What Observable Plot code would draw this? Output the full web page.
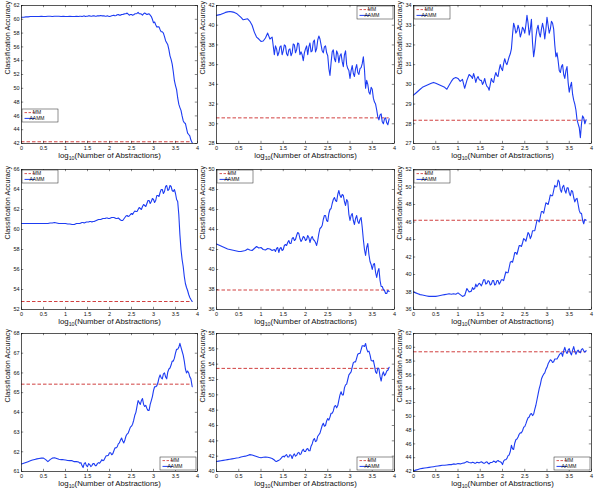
<!DOCTYPE html>
<html>
<head>
<meta charset="utf-8">
<script src="https://cdn.jsdelivr.net/npm/d3@7"></script>
<script src="https://cdn.jsdelivr.net/npm/@observablehq/plot@0.6"></script>
<style>
  html, body { margin: 0; padding: 0; background: white; }
  #wrap { position: relative; width: 600px; height: 492px; overflow: hidden; background: white; }
  #wrap > div { position: absolute; }
</style>
</head>
<body>
<div id="wrap"></div>
<script>
// ---------- data ----------
// main sample positions (log10 of number of abstractions)
const xs = [0,0.05,0.1,0.15,0.2,0.25,0.3,0.35,0.4,0.45,0.5,0.55,0.6,0.65,0.7,0.75,0.8,0.85,0.9,0.95,
  1,1.05,1.1,1.15,1.2,1.25,1.3,1.35,1.4,1.45,1.5,1.55,1.6,1.65,1.7,1.75,1.8,1.85,1.9,1.95,
  2,2.05,2.1,2.15,2.2,2.25,2.3,2.35,2.4,2.45,2.5,2.55,2.6,2.65,2.7,2.75,2.8,2.85,2.9,2.95,
  3,3.05,3.1,3.15,3.2,3.25,3.3,3.35,3.4,3.45,3.5,3.55,3.6,3.65,3.7,3.75,3.8,3.85,3.88];
// extra in-between positions in the noisy part of the curves
const xm = [1.325,1.375,1.425,1.475,1.525,1.575,1.625,1.675,1.725,1.775,1.825,1.875,1.925,1.975,
  2.025,2.075,2.125,2.175,2.225,2.275,2.325,2.375,2.425,2.475,2.525,2.575,2.625,2.675,2.725,2.775,
  2.825,2.875,2.925,2.975,3.025,3.075,3.125,3.175,3.225,3.275,3.325,3.375,3.425,3.475,3.525,3.575,
  3.625,3.675,3.725,3.775,3.825];

const yP1 = [60.3,60.3,60.35,60.35,60.4,60.4,60.4,60.4,60.4,60.45,60.4,60.4,60.45,60.45,60.4,60.45,60.45,60.45,60.4,60.45,
  60.4,60.4,60.45,60.4,60.4,60.45,60.4,60.45,60.45,60.4,60.45,60.5,60.45,60.5,60.45,60.5,60.55,60.5,60.45,60.5,
  60.4,60.5,60.6,60.55,60.7,60.6,60.7,60.8,60.9,60.6,60.7,60.65,60.8,61.0,60.8,60.6,60.9,60.7,60.8,60.4,
  59.5,59.2,58.9,58.5,58.2,57.5,56.6,55.6,54.2,52.4,50.4,48.6,47.2,46.0,45.0,44.2,43.3,42.5,42.1];
const yM1 = [60.45,60.4,60.5,60.45,60.5,60.45,60.5,60.45,60.5,60.5,60.5,60.5,60.45,60.45,
  60.45,60.55,60.5,60.65,60.6,60.7,60.75,60.8,60.75,60.7,60.6,60.8,60.85,60.8,60.75,60.8,
  60.8,60.75,60.6,60.0,59.6,58.9,58.9,58.2,58.0,56.9,56.3,54.7,53.5,51.1,49.8,47.7,
  46.8,45.3,44.9,43.5,43.1];

const yP2 = [41.0,41.05,41.1,41.2,41.3,41.35,41.4,41.35,41.3,41.2,41.0,40.8,40.55,40.6,40.65,40.4,40.0,39.3,38.8,38.6,
  38.35,38.4,38.7,39.2,38.6,38.8,37.0,37.6,37.2,37.9,37.4,37.9,36.9,37.6,37.2,38.0,37.5,38.1,37.3,36.4,
  37.6,37.0,38.2,37.4,38.5,37.6,38.9,38.0,37.2,37.9,36.9,34.9,37.3,36.6,37.4,36.2,37.1,35.8,37.4,35.6,
  34.6,35.9,34.8,36.0,35.0,35.7,36.8,33.6,34.0,33.0,33.5,32.2,31.4,30.4,31.0,30.0,30.6,29.9,30.5];
const yM2 = [37.9,36.9,37.8,37.0,38.0,37.1,37.5,36.9,38.1,37.2,38.2,37.0,37.0,37.2,
  37.9,37.8,37.3,38.3,37.3,38.5,38.6,37.4,37.8,37.2,35.6,36.2,37.5,36.3,37.1,36.9,
  36.3,37.0,36.0,35.4,35.4,35.1,35.6,35.2,35.6,36.1,35.5,34.4,33.2,33.7,32.6,32.0,
  30.7,30.9,30.2,30.5,30.1];

const yP3 = [29.45,29.55,29.65,29.75,29.85,29.9,29.95,30.0,30.05,30.1,30.05,30.0,29.95,29.9,29.85,29.75,29.95,30.15,30.3,30.35,
  30.3,30.15,30.25,29.8,30.2,30.5,30.4,30.55,30.1,30.4,30.2,30.0,30.3,29.9,29.7,30.3,30.1,30.6,30.4,31.0,
  30.7,31.3,31.0,31.4,31.8,33.1,32.6,33.0,32.4,32.9,32.6,33.5,32.5,33.3,31.4,32.4,33.0,32.4,33.1,32.3,
  33.4,32.6,33.2,32.8,31.4,31.2,30.6,31.0,30.3,30.9,29.6,30.1,29.2,28.7,28.0,27.3,28.4,28.0,28.2];
const yM3 = [30.3,30.35,30.3,30.25,30.2,30.1,30.05,29.85,30.0,30.15,30.4,30.45,30.75,30.8,
  31.05,31.1,31.2,31.55,32.5,32.9,32.7,32.8,32.6,32.8,33.0,33.1,32.8,32.1,31.8,32.8,
  32.6,32.8,32.8,32.8,33.0,32.8,33.1,32.0,31.6,30.7,30.9,30.5,30.7,30.1,29.9,29.5,
  29.0,28.2,27.8,28.0,28.3];

const yP4 = [60.6,60.6,60.6,60.6,60.6,60.6,60.6,60.6,60.6,60.6,60.6,60.6,60.6,60.65,60.65,60.7,60.65,60.6,60.6,60.6,
  60.6,60.55,60.55,60.5,60.5,60.6,60.6,60.65,60.7,60.7,60.75,60.8,60.75,60.8,60.9,61.0,61.0,61.1,61.1,61.15,
  61.1,61.2,61.2,61.1,61.15,60.95,60.9,61.2,61.4,61.35,61.6,61.7,61.8,62.0,62.1,62.3,62.4,62.6,62.9,62.8,
  63.0,62.9,63.4,63.7,64.0,63.8,64.4,64.0,64.3,63.8,63.6,62.8,59.5,57.0,55.3,54.2,53.5,53.0,52.8];
const yM4 = [60.6,60.7,60.65,60.75,60.75,60.8,60.8,60.85,60.95,61.0,61.05,61.1,61.15,61.1,
  61.15,61.2,61.15,61.1,61.05,60.9,61.05,61.35,61.3,61.5,61.5,61.85,61.8,62.2,62.0,62.5,
  62.3,62.9,62.6,63.1,62.7,63.4,63.3,64.0,63.6,64.3,63.9,64.4,63.9,64.0,63.0,61.5,
  58.0,56.3,54.6,53.9,53.2];

const yP5 = [42.55,42.45,42.35,42.25,42.15,42.05,42.0,41.95,41.9,41.85,41.8,41.8,41.85,41.9,42.05,41.95,41.9,42.1,42.3,42.15,
  42.2,42.0,41.95,42.1,42.05,41.9,42.0,42.1,41.7,42.2,42.0,42.5,42.7,42.6,43.1,42.9,43.4,43.6,42.8,43.3,
  42.9,43.4,42.7,43.3,42.9,42.4,43.6,44.2,45.0,45.4,44.8,46.0,46.6,47.2,46.8,47.9,47.2,47.4,46.4,46.8,
  44.9,45.6,44.5,45.4,44.6,45.2,43.0,41.4,42.6,40.8,40.0,40.6,39.2,40.1,38.3,38.0,37.6,37.9,37.8];
const yM5 = [41.8,42.2,42.1,41.9,42.4,42.4,42.9,42.6,43.2,43.0,43.7,43.1,43.0,43.2,
  43.0,43.2,43.1,43.0,42.7,42.9,44.1,44.4,45.4,44.9,45.6,46.1,47.0,46.9,47.5,47.4,
  47.5,46.8,47.0,45.5,45.4,44.9,45.1,44.8,45.0,44.2,42.0,42.2,41.5,40.5,40.5,39.7,
  39.8,38.9,38.3,37.9,37.6];

const yP6 = [38.0,37.9,37.8,37.7,37.65,37.6,37.55,37.5,37.5,37.5,37.5,37.55,37.6,37.65,37.7,37.75,37.8,37.75,37.8,37.75,
  37.9,37.7,37.5,37.6,38.4,38.0,38.1,38.3,38.9,38.8,38.9,39.0,39.4,39.0,39.2,38.9,39.3,38.9,39.3,39.1,
  39.4,39.8,40.2,40.8,41.5,41.9,42.5,42.8,43.3,43.6,44.0,44.3,44.6,44.4,45.0,45.6,46.2,46.6,47.2,47.6,
  48.1,48.5,49.0,49.6,50.0,50.8,49.7,50.0,49.6,49.9,49.3,49.6,48.8,48.6,48.0,47.0,46.2,46.3,46.2];
const yM6 = [38.5,38.4,38.6,39.0,38.7,39.4,38.9,39.3,38.8,39.3,38.8,39.3,38.9,39.4,
  39.3,40.3,40.2,41.4,41.4,42.5,42.3,43.3,43.2,44.1,43.8,44.8,44.1,45.0,45.0,46.2,
  46.0,47.2,47.0,48.2,48.0,49.1,49.0,50.2,50.1,50.6,49.4,50.2,49.3,49.9,49.0,49.5,
  48.3,48.7,47.3,47.0,45.8];

const yP7 = [61.38,61.42,61.46,61.5,61.54,61.58,61.61,61.64,61.66,61.68,61.68,61.6,61.5,61.6,61.68,61.7,61.66,61.62,61.6,61.6,
  61.58,61.56,61.55,61.55,61.5,61.5,61.48,61.45,61.2,61.45,61.25,61.35,61.3,61.4,61.3,61.45,61.5,61.55,61.7,61.8,
  61.95,61.85,62.05,62.2,62.4,62.6,62.55,62.6,62.9,63.1,63.3,63.6,64.0,64.6,64.4,64.7,64.3,64.2,64.1,64.6,
  65.1,65.3,65.5,65.9,65.7,66.0,65.7,66.2,66.4,66.6,67.0,67.2,67.5,67.1,66.6,66.0,66.0,65.7,65.3];
const yM7 = [61.42,61.3,61.4,61.3,61.4,61.25,61.4,61.3,61.4,61.42,61.6,61.58,61.8,61.82,
  61.95,61.9,62.2,62.25,62.45,62.7,62.45,62.8,62.95,63.25,63.4,63.85,64.3,64.5,64.6,64.4,
  64.35,64.1,64.4,64.8,65.3,65.35,65.75,65.75,65.95,65.8,66.05,66.25,66.6,66.75,67.2,67.3,
  67.3,66.9,66.2,66.1,65.8];

const yP8 = [41.3,41.35,41.4,41.45,41.5,41.55,41.6,41.65,41.7,41.75,41.8,41.9,41.95,42.0,42.1,42.2,42.15,42.05,41.95,41.85,
  41.8,41.85,41.9,41.85,41.8,41.7,41.5,41.3,41.45,41.7,42.0,42.1,41.9,42.2,41.7,42.3,42.1,42.5,42.3,42.9,
  42.6,43.0,42.7,43.6,44.3,44.0,44.8,45.5,46.3,46.0,46.9,47.1,47.6,48.5,48.3,49.3,50.4,50.0,51.3,52.0,
  52.8,53.6,54.3,54.8,55.4,55.9,56.4,56.7,55.6,55.2,54.4,53.8,52.8,53.4,51.8,53.0,52.7,53.2,53.6];
const yM8 = [41.35,41.4,41.55,41.9,41.9,42.2,41.9,42.1,42.1,42.0,42.4,42.2,42.7,42.6,
  42.9,42.7,43.3,44.1,43.9,44.6,45.0,46.0,45.9,46.6,46.7,47.6,47.9,48.6,48.6,50.0,
  50.0,50.9,51.4,52.6,53.0,54.2,54.3,55.3,55.4,56.4,56.3,56.0,55.7,54.5,54.5,53.0,
  53.5,52.4,52.6,52.5,53.1];

const yP9 = [42.1,42.2,42.3,42.4,42.45,42.5,42.55,42.6,42.65,42.7,42.75,42.8,42.85,42.9,42.9,42.95,43.0,43.0,43.1,43.05,
  43.15,43.1,43.2,43.25,43.45,43.3,43.25,43.3,43.2,43.3,43.35,43.3,43.2,43.4,43.1,43.3,43.5,43.3,43.6,43.4,
  43.0,43.7,43.9,44.4,45.8,45.2,46.6,47.0,47.6,47.9,48.5,49.4,49.9,50.4,50.3,51.6,53.2,54.6,55.8,56.3,
  57.1,57.9,58.1,57.9,58.3,58.6,59.1,58.7,60.0,59.1,59.8,58.9,60.1,59.0,59.6,59.2,59.8,59.3,59.5];
const yM9 = [43.35,43.2,43.35,43.25,43.4,43.2,43.35,43.2,43.3,43.35,43.45,43.5,43.45,43.3,
  43.5,43.7,44.3,44.9,45.3,46.1,46.7,47.4,47.6,48.4,48.9,49.8,50.3,50.1,51.0,52.4,
  54.0,55.4,56.1,56.8,57.6,58.2,57.8,58.3,58.3,58.9,59.2,59.5,59.4,59.6,59.2,59.6,
  59.4,59.4,59.3,59.7,59.5];

const mmValues = [42.25, 30.6, 28.18, 52.8, 37.95, 46.2, 65.43, 53.45, 59.35];

const xTicks = [0, 0.5, 1, 1.5, 2, 2.5, 3, 3.5, 4];
const yTicks = [
  [42,44,46,48,50,52,54,56,58,60,62],
  [28,30,32,34,36,38,40,42],
  [27,28,29,30,31,32,33,34],
  [52,54,56,58,60,62,64,66],
  [36,38,40,42,44,46,48,50],
  [36,38,40,42,44,46,48,50,52],
  [61,62,63,64,65,66,67,68],
  [40,42,44,46,48,50,52,54,56,58],
  [42,44,46,48,50,52,54,56,58,60,62]
];
const seriesNames = ["MM", "AAMM"];
const xLabel = "log10(Number of Abstractions)";
const yLabel = "Classification Accuracy";

// ---------- layout ----------
const yAll = [yP1, yP2, yP3, yP4, yP5, yP6, yP7, yP8, yP9];
const yMid = [yM1, yM2, yM3, yM4, yM5, yM6, yM7, yM8, yM9];
const colLeft = [21, 216, 413], colW = [176, 178, 178];
const rowTop = [5, 169, 333], rowH = [138, 140, 138];
const legendSpec = [
  {h: "left", v: "bottom", lift: 21}, {h: "right", v: "top", lift: 1}, {h: "left", v: "top", lift: 1},
  {h: "left", v: "top", lift: 1}, {h: "left", v: "top", lift: 1}, {h: "left", v: "top", lift: 1},
  {h: "right", v: "bottom", lift: 1}, {h: "right", v: "bottom", lift: 1}, {h: "right", v: "bottom", lift: 1}
];
const BLUE = "#1d3cf2", RED = "#cc2a2a";
const FONT = "'Liberation Sans', Arial, Helvetica, sans-serif";
const mL = 20, mR = 3, mT = 3, mB = 22;

function legendMark(spec) {
  return (index, scales, values, dims) => {
    const {width, height, marginLeft, marginRight, marginTop, marginBottom} = dims;
    const bw = 36, bh = 13;
    const x0 = spec.h === "left" ? marginLeft + 1 : width - marginRight - bw - 1;
    const y0 = spec.v === "top" ? marginTop + spec.lift : height - marginBottom - bh - spec.lift;
    const g = d3.create("svg:g").attr("font-family", FONT).attr("font-size", 5);
    g.append("rect").attr("x", x0).attr("y", y0).attr("width", bw).attr("height", bh)
      .attr("fill", "white").attr("stroke", "#222").attr("stroke-width", 0.5);
    const rows = [{c: RED, dash: "2.5,1.5", w: 0.8}, {c: BLUE, dash: null, w: 1}];
    rows.forEach((r, i) => {
      const yy = y0 + 3.6 + i * 5.8;
      g.append("line").attr("x1", x0 + 2.5).attr("x2", x0 + 12.5).attr("y1", yy).attr("y2", yy)
        .attr("stroke", r.c).attr("stroke-width", r.w).attr("stroke-dasharray", r.dash);
      g.append("text").attr("x", x0 + 15).attr("y", yy).attr("dy", "0.35em").attr("fill", "#111")
        .text(seriesNames[i]);
    });
    return g.node();
  };
}

const wrap = document.getElementById("wrap");
for (let p = 0; p < 9; p++) {
  const r = Math.floor(p / 3), c = p % 3;
  const fw = colW[c], fh = rowH[r];
  const data = d3.sort(
    xs.map((x, i) => ({x, y: yAll[p][i]})).concat(xm.map((x, i) => ({x, y: yMid[p][i]}))),
    d => d.x
  );
  const yt = yTicks[p];
  const plot = Plot.plot({
    width: mL + fw + mR,
    height: mT + fh + mB,
    marginLeft: mL, marginRight: mR, marginTop: mT, marginBottom: mB,
    style: {background: "transparent", overflow: "visible", fontFamily: FONT, color: "#111"},
    x: {domain: [0, 4]},
    y: {domain: [yt[0], yt[yt.length - 1]]},
    marks: [
      Plot.ruleY([mmValues[p]], {x1: xs[0], x2: xs[xs.length - 1], stroke: RED, strokeWidth: 0.9, strokeDasharray: "3.5,2"}),
      Plot.line(data, {x: "x", y: "y", stroke: BLUE, strokeWidth: 1.1, strokeLinejoin: "round"}),
      Plot.frame({stroke: "#111", strokeWidth: 0.7}),
      Plot.tickX(xTicks, {x: d => d, insetTop: fh - 2.2, stroke: "#111", strokeWidth: 0.5}),
      Plot.tickX(xTicks, {x: d => d, insetBottom: fh - 2.2, stroke: "#111", strokeWidth: 0.5}),
      Plot.tickY(yt, {y: d => d, insetRight: fw - 2.2, stroke: "#111", strokeWidth: 0.5}),
      Plot.tickY(yt, {y: d => d, insetLeft: fw - 2.2, stroke: "#111", strokeWidth: 0.5}),
      Plot.axisX({ticks: xTicks, tickFormat: d => String(d), tickSize: 0, tickPadding: 2.5, fontSize: 5.5, label: null}),
      Plot.axisY({ticks: yt, tickFormat: d => String(d), tickSize: 0, tickPadding: 2, fontSize: 5.5, label: null}),
      Plot.text([xLabel], {frameAnchor: "bottom", dy: 14.5, fontSize: 7.8, fill: "#111"}),
      Plot.text([yLabel], {frameAnchor: "left", dx: -13.5, rotate: -90, fontSize: 7.2, fill: "#111"}),
      legendMark(legendSpec[p])
    ]
  });
  // subscript for log10
  d3.select(plot).selectAll("text").each(function() {
    if (this.textContent === xLabel) {
      const t = d3.select(this);
      t.text(null);
      t.append("tspan").text("log");
      t.append("tspan").attr("dy", 2).attr("font-size", 5.3).text("10");
      t.append("tspan").attr("dy", -2).text("(Number of Abstractions)");
    }
  });
  const holder = document.createElement("div");
  holder.style.left = (colLeft[c] - mL) + "px";
  holder.style.top = (rowTop[r] - mT) + "px";
  holder.appendChild(plot);
  wrap.appendChild(holder);
}
</script>
</body>
</html>
